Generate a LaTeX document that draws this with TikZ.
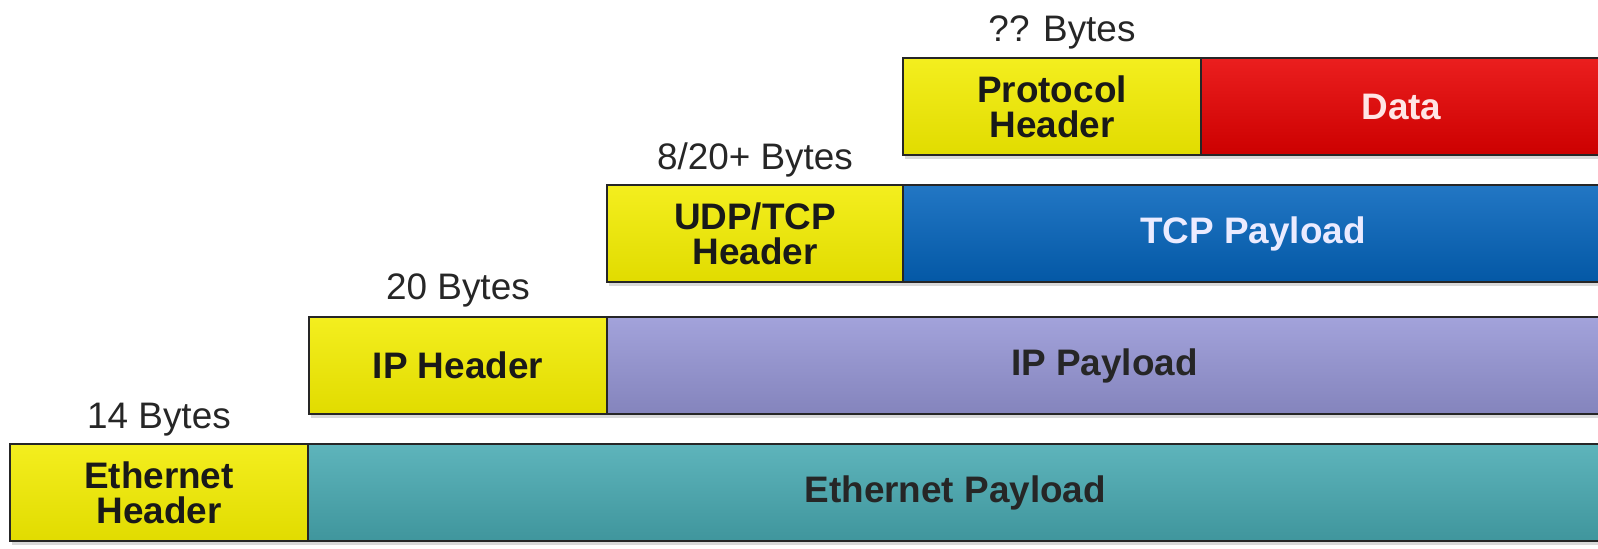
\documentclass[tikz,border=0pt]{standalone}
\usepackage{fontspec}
\setmainfont{Liberation Sans}
\usetikzlibrary{positioning, shadows}
\definecolor{hdryellow}{RGB}{242,236,0}
\definecolor{ethteal}{RGB}{72,170,178}
\definecolor{iplavender}{RGB}{150,150,214}
\definecolor{tcpblue}{RGB}{4,100,188}
\definecolor{datared}{RGB}{232,0,0}

\begin{document}
\begin{tikzpicture}[
    x=0.02cm, y=-0.02cm,
    field/.style={rectangle, draw=black!85, line width=1.3pt, inner sep=0pt, outer sep=0pt,
        minimum height=1.94cm, align=center, font=\fontsize{21}{20}\selectfont\bfseries,
        drop shadow={shadow xshift=0.04cm, shadow yshift=-0.08cm, opacity=0.3}},
    header/.style={field, anchor=north west, minimum width=5.96cm,
        top color=#1!88!white, bottom color=#1!93!black, text=black!90},
    payload/.style={field, top color=#1!88!white, bottom color=#1!88!black},
    bytes/.style={anchor=base, font=\fontsize{21}{20}\selectfont, text=black!85},
]
\useasboundingbox (0,0) rectangle (1598,548);

% Row 1: Ethernet frame
\node[header=hdryellow] (eth) at (10,444) {Ethernet\\Header};
\node[payload=ethteal, right=0pt of eth, minimum width=25.9cm, text=black!85] (ethpay) {Ethernet Payload};
\node[bytes] (ethbytes) at ([yshift=0.32cm]eth.north) {14 Bytes};

% Row 2: IP packet
\node[header=hdryellow] (ip) at (309,317) {IP Header};
\node[payload=iplavender, right=0pt of ip, minimum width=19.9cm, text=black!85] (ippay) {IP Payload};
\node[bytes] (ipbytes) at ([yshift=0.36cm]ip.north) {20 Bytes};

% Row 3: transport segment
\node[header=hdryellow, minimum width=5.92cm] (tcp) at (607,185) {UDP/TCP\\Header};
\node[payload=tcpblue, right=0pt of tcp, minimum width=14cm, text=blue!8] (tcppay) {TCP Payload};
\node[bytes] (tcpbytes) at ([yshift=0.32cm]tcp.north) {8/20+ Bytes};

% Row 4: application data
\node[header=hdryellow] (proto) at (903,58) {Protocol\\Header};
\node[payload=datared, right=0pt of proto, minimum width=8.02cm, text=red!10] (data) {Data};
\node[bytes] (protobytes) at ([xshift=0.2cm, yshift=0.34cm]proto.north) {?? Bytes};

\end{tikzpicture}
\end{document}
